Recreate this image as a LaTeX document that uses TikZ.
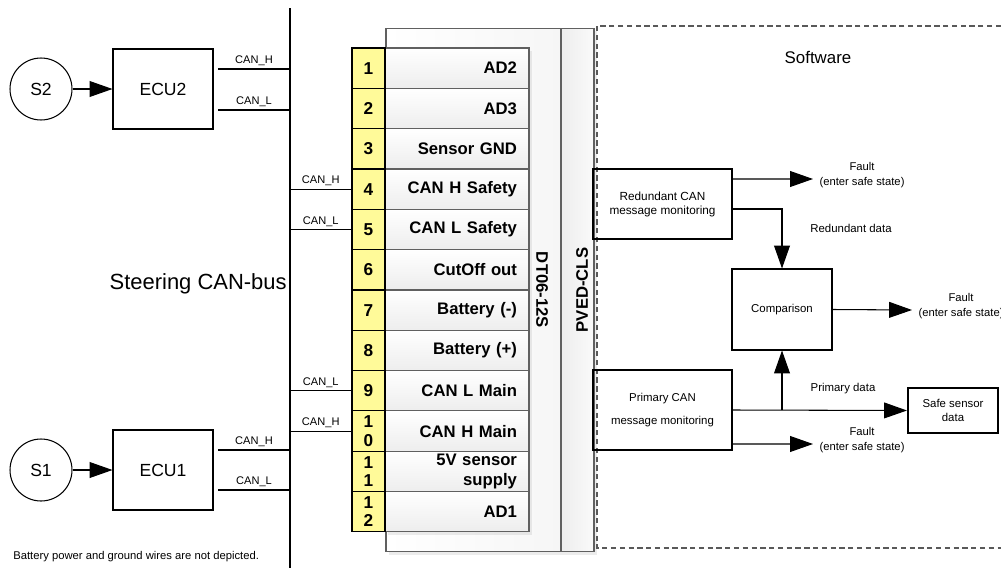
\documentclass[tikz,border=0pt]{standalone}
\usepackage{fontspec}
\setmainfont{Liberation Sans}
\usetikzlibrary{arrows.meta,positioning,shadows}

\begin{document}
\begin{tikzpicture}[
  x=0.02cm, y=-0.02cm,
  every node/.style={font=\fontsize{6.5}{8}\selectfont, align=center, inner sep=0pt},
  sensor/.style={draw, circle, line width=0.6pt, minimum size=1.24cm, font=\fontsize{10}{12}\selectfont},
  ecu/.style={draw, line width=0.6pt, minimum width=2cm, minimum height=1.6cm, font=\fontsize{10}{12}\selectfont},
  bus/.style={line width=1.7pt},
  wire/.style={line width=0.6pt},
  flow/.style={line width=0.6pt, -{Triangle[length=13pt,width=9pt]}},
  canlbl/.style={above=1.5pt, font=\fontsize{6.3}{7}\selectfont},
  housing/.style={draw=gray!75!black, line width=0.6pt, minimum height=10.48cm,
    drop shadow={shadow xshift=1.5pt, shadow yshift=-1.5pt, opacity=0.15}},
  pinbox/.style={draw, line width=0.6pt, fill=yellow!40, minimum width=0.66cm, minimum height=0.807cm,
    font=\fontsize{9.8}{10.5}\selectfont\bfseries},
  namecell/.style={draw=gray!75!black, line width=0.6pt, top color=white, bottom color=gray!14,
    minimum width=2.88cm, minimum height=0.807cm, text width=2.4cm, inner xsep=0.24cm, align=right,
    font=\fontsize{9.5}{11}\selectfont\bfseries,
    drop shadow={shadow xshift=1.5pt, shadow yshift=-1.5pt, opacity=0.15}},
  swzone/.style={draw=gray!70!black, line width=0.8pt, dash pattern=on 3pt off 2pt},
  swbox/.style={draw, line width=0.6pt, minimum width=2.78cm, minimum height=1.6cm},
  fault/.style={font=\fontsize{6.4}{8.5}\selectfont}
]
\useasboundingbox (0,0) rectangle (1001,568);

\coordinate (bustop) at (290,8);
\coordinate (busend) at (290,568);
\coordinate (bus) at (290,0);
\draw[bus] (bustop) -- (busend);
\node[anchor=east, font=\fontsize{12.5}{14}\selectfont] (buslbl) at (287,284) {Steering CAN-bus};

\node[sensor] (s2) at (41,89) {S2};
\node[ecu] (ecu2) at (163,89) {ECU2};
\node[sensor] (s1) at (41,470) {S1};
\node[ecu] (ecu1) at (163,470) {ECU1};
\draw[flow] (s2) -- (ecu2);
\draw[flow] (s1) -- (ecu1);

\coordinate (e2h) at (218,69);
\coordinate (e2l) at (218,110);
\coordinate (e1h) at (218,450);
\coordinate (e1l) at (218,490);
\draw[wire] (e2h) -- node[canlbl] {CAN\_H} (e2h -| bus);
\draw[wire] (e2l) -- node[canlbl] {CAN\_L} (e2l -| bus);
\draw[wire] (e1h) -- node[canlbl] {CAN\_H} (e1h -| bus);
\draw[wire] (e1l) -- node[canlbl] {CAN\_L} (e1l -| bus);

\node[anchor=west, font=\fontsize{6.4}{8}\selectfont] (note) at (13,557) {Battery power and ground wires are not depicted.};

\node[housing, left color=white, right color=gray!7, minimum width=3.5cm] (dt) at (473.5,290) {};
\node[housing, left color=gray!14, right color=gray!4, minimum width=0.66cm] (pved) at (577.5,290) {};
\node[rotate=-90, font=\fontsize{9.5}{11}\selectfont\bfseries] (dtlbl) at (542,290) {DT06-12S};
\node[rotate=90, font=\fontsize{9.5}{11}\selectfont\bfseries] (pvedlbl) at (582,290) {PVED-CLS};

\foreach \n/\txt [count=\i] in {{1}/{AD2}, {2}/{AD3}, {3}/{Sensor GND}, {4}/{CAN H Safety},
    {5}/{CAN L Safety}, {6}/{CutOff out}, {7}/{Battery (-)}, {8}/{Battery (+)},
    {9}/{CAN L Main}, {1\\0}/{CAN H Main}, {1\\1}/{5V sensor\\supply}, {1\\2}/{AD1}}
{
  \node[namecell] (lab\i) at (457,{48+40.33*(\i-0.5)}) {\txt};
  \node[pinbox] (pin\i) at (368.5,{48+40.33*(\i-0.5)}) {\n};
}

\draw[wire] (pin4.west -| bus) -- node[canlbl] {CAN\_H} (pin4.west);
\draw[wire] (pin5.west -| bus) -- node[canlbl] {CAN\_L} (pin5.west);
\draw[wire] (pin9.west -| bus) -- node[canlbl] {CAN\_L} (pin9.west);
\draw[wire] (pin10.west -| bus) -- node[canlbl] {CAN\_H} (pin10.west);

\draw[swzone] (1001,26) -- (597,26) -- (597,548) -- (1001,548);
\node[font=\fontsize{9.6}{11}\selectfont] (sw) at (818,57) {Software};

\node[swbox, minimum height=1.4cm, font=\fontsize{6.7}{8}\selectfont] (redmon) at (662.5,204) {Redundant CAN\\message monitoring};
\node[swbox, minimum width=2cm, minimum height=1.62cm] (comp) at (782,309.5) {Comparison};
\node[swbox, font=\fontsize{6.5}{13}\selectfont] (primon) at (662.5,410) {Primary CAN\\message monitoring};
\node[draw, line width=1.2pt, minimum width=1.8cm, minimum height=0.9cm, font=\fontsize{6.5}{7.6}\selectfont] (safe) at (953,410.5) {Safe sensor\\data};

\coordinate (f1) at (813,179);
\coordinate (f2) at (912,310);
\coordinate (f3) at (813,444);
\draw[flow] ([yshift=0.5cm]redmon.east) -- (f1);
\node[fault, right=3.5pt of f1, yshift=2pt] (f1lbl) {Fault\\(enter safe state)};
\draw[flow] ([yshift=-0.1cm]redmon.east) -| (comp.north);
\node (rdlbl) at (851,228) {Redundant data};
\draw[flow] (comp.east) -- (f2);
\node[fault, right=3.5pt of f2, yshift=2pt] (f2lbl) {Fault\\(enter safe state)};
\draw[flow] (primon.east) -- (safe.west);
\draw[flow] (comp.south |- primon.east) -- (comp.south);
\node (pdlbl) at (843,389) {Primary data};
\draw[flow] ([yshift=-0.68cm]primon.east) -- (f3);
\node[fault, right=3.5pt of f3, yshift=2pt] (f3lbl) {Fault\\(enter safe state)};
\end{tikzpicture}
\end{document}
